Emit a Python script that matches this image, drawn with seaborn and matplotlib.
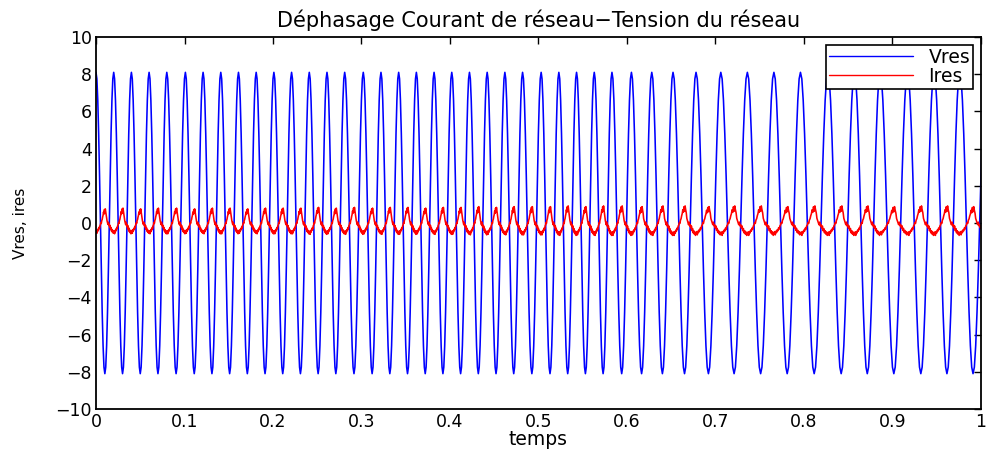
import numpy as np
import pandas as pd
import matplotlib
matplotlib.use("Agg")
import matplotlib.pyplot as plt
from matplotlib.lines import Line2D
import seaborn as sns

# ---------------- data ----------------
title = "Déphasage Courant de réseau\u2212Tension du réseau"
x_label = "temps"
y_label = "Vres, ires"
series_names = ["Vres", "Ires"]
series_colors = ["#0000ff", "#ff0000"]

# times of the Vres maxima (s)
vres_peak_t = [0.000, 0.020, 0.040, 0.060, 0.080, 0.101, 0.121, 0.141, 0.161,
               0.181, 0.201, 0.221, 0.241, 0.261, 0.281, 0.302, 0.322, 0.342,
               0.362, 0.382, 0.402, 0.422, 0.442, 0.462, 0.482, 0.503, 0.523,
               0.543, 0.563, 0.583, 0.605, 0.628, 0.652, 0.678, 0.706, 0.736,
               0.766, 0.796, 0.827, 0.857, 0.886, 0.917, 0.947, 0.976, 1.006]

# one period of Vres, starting at a maximum (20 samples)
vres_cycle = [8.1, 7.75, 6.6, 4.8, 2.55, 0.0, -2.55, -4.8, -6.6, -7.75,
              -8.1, -7.75, -6.6, -4.8, -2.55, 0.0, 2.55, 4.8, 6.6, 7.75]

# one period of Ires over the same cycle (40 samples, jagged)
ires_cycle = [-0.52, -0.42, -0.58, -0.40, -0.47, -0.33, -0.38, -0.24, -0.30, -0.14,
              -0.10, 0.02, -0.02, 0.14, 0.20, 0.34, 0.44, 0.62, 0.50, 0.76,
              0.55, 0.80, 0.62, 0.48, 0.22, 0.12, 0.02, -0.08, 0.04, -0.14,
              -0.08, -0.24, -0.14, -0.36, -0.26, -0.46, -0.36, -0.52, -0.42, -0.58]

# per-cycle Ires scale (slightly larger towards the end)
ires_gain = [0.95, 1.00, 0.95, 1.00, 1.00, 0.95, 1.00, 1.00, 0.95, 1.00,
             1.00, 1.00, 1.05, 1.00, 1.05, 1.00, 1.05, 1.05, 1.00, 1.05,
             1.05, 1.10, 1.05, 1.10, 1.10, 1.10, 1.15, 1.10, 1.15, 1.15,
             1.10, 1.15, 1.15, 1.10, 1.15, 1.15, 1.10, 1.15, 1.15, 1.15,
             1.10, 1.15, 1.15, 1.10]

x_ticks = [0, 0.1, 0.2, 0.3, 0.4, 0.5, 0.6, 0.7, 0.8, 0.9, 1.0]
x_tick_labels = ["0", "0.1", "0.2", "0.3", "0.4", "0.5", "0.6", "0.7", "0.8", "0.9", "1"]
y_ticks = [-10, -8, -6, -4, -2, 0, 2, 4, 6, 8, 10]

# ---------------- build long table ----------------
rows_t, rows_v, rows_s = [], [], []
nv, ni = len(vres_cycle), len(ires_cycle)
for k in range(len(vres_peak_t) - 1):
    t0, t1 = vres_peak_t[k], vres_peak_t[k + 1]
    for i, v in enumerate(vres_cycle):
        rows_t.append(t0 + (t1 - t0) * i / nv); rows_v.append(v); rows_s.append("Vres")
    g = ires_gain[k]
    for i, v in enumerate(ires_cycle):
        rows_t.append(t0 + (t1 - t0) * i / ni); rows_v.append(v * g); rows_s.append("Ires")
df = pd.DataFrame({"t": rows_t, "val": rows_v, "sig": rows_s})

# ---------------- plot ----------------
sns.set_style("white")
plt.rcParams["font.family"] = ["DejaVu Sans"]
plt.rcParams["axes.unicode_minus"] = True
for key in ["text.color", "axes.labelcolor", "xtick.color", "ytick.color"]:
    plt.rcParams[key] = "black"

fig = plt.figure(figsize=(9.87, 4.5), dpi=100)
ax_l, ax_r, ax_t, ax_b = 96, 981, 37, 409
ax = fig.add_axes([ax_l / 987, 1 - ax_b / 450, (ax_r - ax_l) / 987, (ax_b - ax_t) / 450])

sns.lineplot(data=df, x="t", y="val", hue="sig", hue_order=series_names,
             palette=dict(zip(series_names, series_colors)),
             estimator=None, sort=False, linewidth=1.15, ax=ax, legend=False)

ax.set_xlim(0, 1)
ax.set_ylim(-10, 10)
ax.set_xticks(x_ticks)
ax.set_xticklabels(x_tick_labels)
ax.set_yticks(y_ticks)
ax.tick_params(direction="in", length=5, width=1, top=True, right=True,
               labelsize=12.5, colors="black", pad=3)
for s in ax.spines.values():
    s.set_visible(True)
    s.set_color("black")
    s.set_linewidth(1.3)

ax.set_title(title, fontsize=15, pad=7)
ax.set_xlabel(x_label, fontsize=13.5, labelpad=-1)
ax.set_ylabel(y_label, fontsize=11, labelpad=20)

handles = [Line2D([], [], color=c, lw=1.0) for c in series_colors]
leg = ax.legend(handles, series_names, loc="upper right",
                bbox_to_anchor=(1 - 8 / (ax_r - ax_l), 1 - 8 / (ax_b - ax_t)),
                borderaxespad=0, fontsize=13.5, handlelength=4.5,
                frameon=True, fancybox=False, edgecolor="black", framealpha=1,
                handletextpad=0.8, labelspacing=0.0, borderpad=0.15)
leg.get_frame().set_linewidth(1.2)

fig.savefig("out.png", dpi=100, facecolor="white")
